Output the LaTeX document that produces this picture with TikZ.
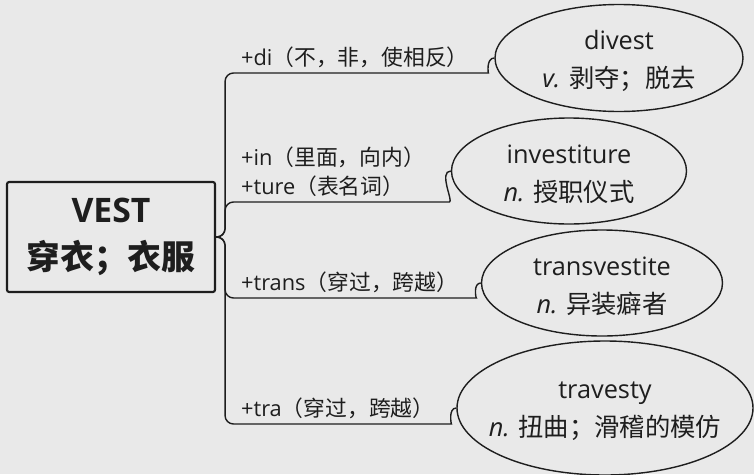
\documentclass[tikz,border=0pt]{standalone}
\usepackage{fontspec}
\setmainfont{Open Sans}
\newfontfamily\cjk{Noto Sans CJK SC}
\usepackage{tikz}
\usetikzlibrary{shapes.geometric}
\definecolor{mmbg}{RGB}{233,233,233}
\definecolor{mmink}{RGB}{30,30,30}

\begin{document}
\begin{tikzpicture}[
    x=0.025cm, y=-0.025cm,
    rootbox/.style={rectangle, rounded corners=1.5pt, draw=mmink, line width=1.5pt,
                    minimum width=208*0.025cm, minimum height=110*0.025cm, align=center,
                    font=\fontsize{24}{33}\selectfont\bfseries, text=mmink},
    wordbox/.style={ellipse, draw=mmink, line width=1pt, inner sep=0pt},
    wordtext/.style={align=center, inner sep=0pt, yshift=-2pt,
                     font=\fontsize{18}{27}\selectfont, text=mmink},
    lbl/.style={anchor=south west, inner sep=2pt, align=left,
                font=\fontsize{15.5}{21}\selectfont, text=mmink},
    branch/.style={draw=mmink, line width=1pt, rounded corners=6pt}
  ]
    % background and page size
    \fill[mmbg] (0,0) rectangle (754,474);
    \useasboundingbox (0,0) rectangle (754,474);

    % Root
    \node[rootbox] (root) at (111,237) {VEST\\{\cjk 穿衣；衣服}};

    % Derived words
    \node[wordbox, minimum width=248*0.025cm, minimum height=107*0.025cm] (divest)   at (619,58) {};
    \node[wordbox, minimum width=235*0.025cm, minimum height=106*0.025cm] (invest)   at (569,171) {};
    \node[wordbox, minimum width=241*0.025cm, minimum height=106*0.025cm] (transv)   at (602,283) {};
    \node[wordbox, minimum width=296*0.025cm, minimum height=134*0.025cm] (travesty) at (605,408) {};
    \node[wordtext] (divestTxt)   at (divest)   {divest\\\textit{v.} {\cjk 剥夺；脱去}};
    \node[wordtext] (investTxt)   at (invest)   {investiture\\\textit{n.} {\cjk 授职仪式}};
    \node[wordtext] (transvTxt)   at (transv)   {transvestite\\\textit{n.} {\cjk 异装癖者}};
    \node[wordtext] (travestyTxt) at (travesty) {travesty\\\textit{n.} {\cjk 扭曲；滑稽的模仿}};

    % Branch ends
    \coordinate (j1) at (480,73);
    \coordinate (j2) at (441,202);
    \coordinate (j3) at (468,298);
    \coordinate (j4) at (443,424);

    % Branches
    \draw[branch] (root.east) -- ++(9,0) |- (j1) to[out=0,in=180] (divest.west);
    \draw[branch] (root.east) -- ++(9,0) |- (j2) to[out=0,in=180] (invest.west);
    \draw[branch] (root.east) -- ++(9,0) |- (j3) to[out=0,in=180] (transv.west);
    \draw[branch] (root.east) -- ++(9,0) |- (j4) to[out=0,in=180] (travesty.west);

    % Affix labels
    \node[lbl] (ldi)     at (238,71)  {+di{\cjk （不，非，使相反）}};
    \node[lbl] (linture) at (238,200) {+in{\cjk （里面，向内）}\\+ture{\cjk （表名词）}};
    \node[lbl] (ltrans)  at (238,296) {+trans{\cjk （穿过，跨越）}};
    \node[lbl] (ltra)    at (238,422) {+tra{\cjk （穿过，跨越）}};
  \end{tikzpicture}
\end{document}
